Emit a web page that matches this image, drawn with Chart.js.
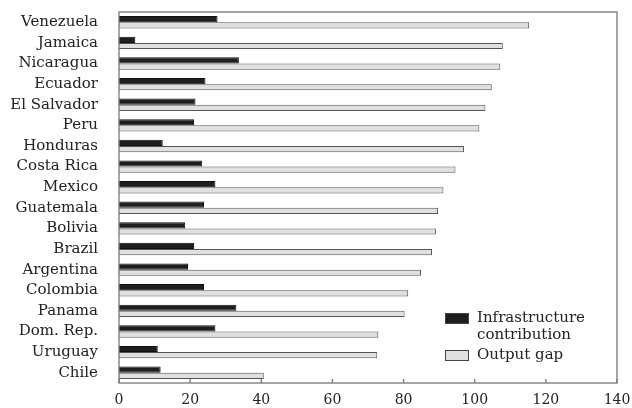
<!DOCTYPE html>
<html lang="en">

<head>
    <meta charset="UTF-8">
    <meta name="viewport" content="width=device-width, initial-scale=1.0">
    <script src="https://cdn.jsdelivr.net/npm/chart.js"></script>
    <title>Infrastructure contribution and output gap</title>
    <style>
        body {
            margin: 0;
            background: #ffffff;
        }

        .container-grafico {
            position: relative;
            width: 632px;
            height: 408px;
            overflow: hidden;
        }

        .legenda {
            position: absolute;
            left: 445px;
            top: 309px;
            font-family: "DejaVu Serif", serif;
            font-size: 15px;
            color: #222;
            line-height: 17px;
        }

        .legenda .item {
            display: flex;
            align-items: flex-start;
            margin-bottom: 3px;
        }

        .legenda .caixa {
            width: 22px;
            height: 9px;
            margin-top: 4px;
            margin-right: 8px;
            border: 1px solid #444;
            flex: none;
        }
    </style>
</head>

<body>
    <div class="container-grafico">
        <canvas id="myChart" width="632" height="408"></canvas>
        <div class="legenda" id="legenda"></div>
    </div>
</body>

</html>

<script>
    const paises = ['Venezuela', 'Jamaica', 'Nicaragua', 'Ecuador', 'El Salvador', 'Peru', 'Honduras',
        'Costa Rica', 'Mexico', 'Guatemala', 'Bolivia', 'Brazil', 'Argentina', 'Colombia', 'Panama',
        'Dom. Rep.', 'Uruguay', 'Chile'];

    const infraestrutura = [27.7, 4.6, 33.7, 24.3, 21.5, 21.1, 12.3, 23.4, 27.1, 23.9, 18.6, 21.1, 19.4,
        23.9, 33.0, 27.1, 10.9, 11.7];

    const outputGap = [115.3, 107.9, 107.2, 104.8, 103.0, 101.3, 97.0, 94.6, 91.2, 89.7, 89.1, 88.0, 84.9,
        81.3, 80.3, 72.9, 72.6, 40.7];

    const ticksX = [0, 20, 40, 60, 80, 100, 120, 140];

    const fonte = "'DejaVu Serif', serif";

    // moldura em volta da area do grafico + tracinhos do eixo x pra dentro
    const moldura = {
        id: 'moldura',
        afterDraw(chart) {
            const ctx = chart.ctx;
            const area = chart.chartArea;
            const x = chart.scales.x;
            ctx.save();
            ctx.strokeStyle = '#777';
            ctx.lineWidth = 1.3;
            ctx.strokeRect(area.left, area.top, area.right - area.left, area.bottom - area.top);
            ctx.beginPath();
            ticksX.forEach(function (v) {
                const px = x.getPixelForValue(v);
                ctx.moveTo(px, area.bottom);
                ctx.lineTo(px, area.bottom - 4);
            });
            ctx.stroke();
            ctx.restore();
        }
    };

    const dados = {
        labels: paises,
        datasets: [{
            label: 'Infrastructure contribution',
            data: infraestrutura,
            backgroundColor: '#1e1e1e',
            borderColor: '#111111',
            borderWidth: 1,
            categoryPercentage: 0.6,
            barPercentage: 1.0
        }, {
            label: 'Output gap',
            data: outputGap,
            backgroundColor: '#e0e0e0',
            borderColor: '#555555',
            borderWidth: 1,
            categoryPercentage: 0.6,
            barPercentage: 1.0
        }]
    };

    const config = {
        type: 'bar',
        data: dados,
        options: {
            indexAxis: 'y',
            responsive: false,
            animation: false,
            layout: {
                padding: { top: 12, right: 15, left: 0, bottom: 0 }
            },
            plugins: {
                legend: { display: false },
                tooltip: { enabled: false }
            },
            scales: {
                x: {
                    min: 0,
                    max: 140,
                    afterBuildTicks: function (axis) {
                        axis.ticks = ticksX.map(v => ({ value: v }));
                    },
                    afterFit: function (axis) {
                        axis.paddingLeft = 0;
                        axis.paddingRight = 0;
                        axis.height = 25;
                    },
                    grid: { display: false, drawTicks: false },
                    border: { display: false },
                    ticks: {
                        color: '#222',
                        padding: 9,
                        maxRotation: 0,
                        font: { family: fonte, size: 14 }
                    }
                },
                y: {
                    afterFit: function (axis) {
                        axis.paddingTop = 0;
                        axis.paddingBottom = 0;
                        axis.width = 119;
                    },
                    grid: { display: false, drawTicks: false },
                    border: { display: false },
                    ticks: {
                        color: '#222',
                        padding: 21,
                        autoSkip: false,
                        font: { family: fonte, size: 15 }
                    }
                }
            }
        },
        plugins: [moldura]
    };

    let myChart = new Chart(document.getElementById('myChart'), config);

    // legenda em html, dentro da area do grafico
    const legenda = document.getElementById('legenda');
    const textosLegenda = ['Infrastructure<br>contribution', 'Output gap'];
    dados.datasets.forEach(function (ds, i) {
        const item = document.createElement('div');
        item.className = 'item';
        item.innerHTML = '<span class="caixa" style="background:' + ds.backgroundColor + '"></span><span>' + textosLegenda[i] + '</span>';
        legenda.appendChild(item);
    });
</script>
